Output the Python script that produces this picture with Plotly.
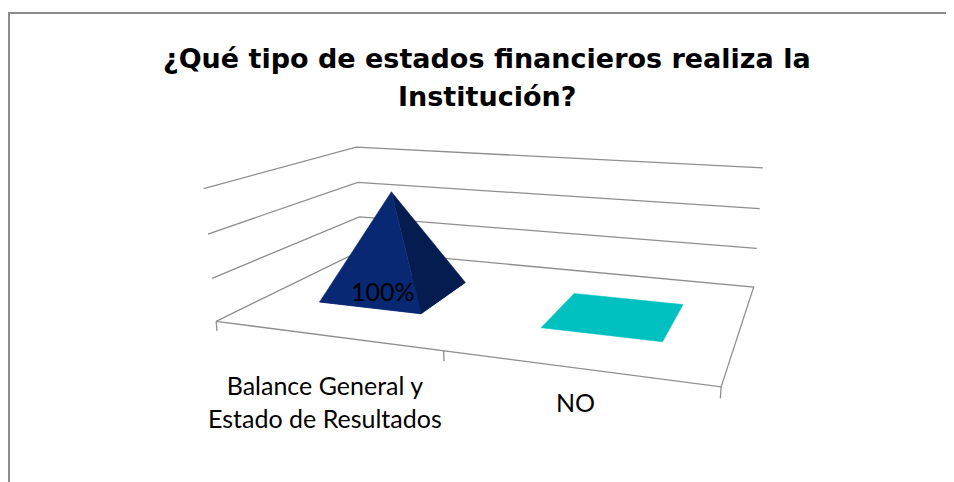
import numpy as np
import plotly.graph_objects as go

# ---------------- data ----------------
categories = ["Balance General y<br>Estado de Resultados", "NO"]
values = [1.0, 0.0]
value_labels = ["100%", ""]
tick_values = [0.0, 0.4, 0.8, 1.2]
title_lines = ["¿Qué tipo de estados financieros realiza la", "Institución?"]

# ---------------- styles ----------------
front_colors = ["#082873", "#00C0C0"]
side_colors = ["#041C50", "#009A9A"]
grid_color = "#8E8E8E"
PAGE_OFFSET = 8          # default page margin of the html body
W, H = 954 - PAGE_OFFSET, 482 - PAGE_OFFSET
HALF_X, HALF_Y = 0.24, 0.2   # pyramid base half size (category units / depth units)

# ---------------- view calibration (3D box -> screen) ----------------
# world (category position, depth, value) -> screen pixel of the box corners
calib = [
    ((0, 0, 0.0), (215, 322)), ((0, 0, 0.4), (212, 278)), ((0, 0, 0.8), (208, 234)), ((0, 0, 1.2), (205, 188)),
    ((0, 1, 0.0), (362, 250)), ((0, 1, 0.4), (360, 217)), ((0, 1, 0.8), (357, 183)), ((0, 1, 1.2), (355, 147)),
    ((2, 1, 0.0), (753, 287)), ((2, 1, 0.4), (757, 248)), ((2, 1, 0.8), (760, 209)), ((2, 1, 1.2), (763, 168)),
    ((2, 0, 0.0), (721, 387)),
]
A, bvec = [], []
for (X, Y, Z), (u, v) in calib:
    A.append([X, Y, Z, 1, 0, 0, 0, 0, -u * X, -u * Y, -u * Z]); bvec.append(u)
    A.append([0, 0, 0, 0, X, Y, Z, 1, -v * X, -v * Y, -v * Z]); bvec.append(v)
p = np.linalg.lstsq(np.array(A, float), np.array(bvec, float), rcond=None)[0]
P = np.append(p, 1.0).reshape(3, 4)


def proj(X, Y, Z):
    r = P @ np.array([X, Y, Z, 1.0])
    return r[0] / r[2], r[1] / r[2]


def path(pts):
    xy = [proj(*q) for q in pts]
    return [a for a, _ in xy], [b for _, b in xy]


fig = go.Figure()
n = len(categories)

# gridlines on left and back walls
for z in tick_values[1:]:
    xs, ys = path([(0, 0, z), (0, 1, z), (n, 1, z)])
    fig.add_trace(go.Scatter(x=xs, y=ys, mode="lines", line=dict(color=grid_color, width=1.3),
                             hoverinfo="skip", showlegend=False))
# floor
xs, ys = path([(0, 0, 0), (n, 0, 0), (n, 1, 0), (0, 1, 0), (0, 0, 0)])
fig.add_trace(go.Scatter(x=xs, y=ys, mode="lines", line=dict(color=grid_color, width=1.3),
                         hoverinfo="skip", showlegend=False))
# category tick marks
for k in range(n + 1):
    xs, ys = path([(k, 0, 0), (k, 0, -0.09)])
    fig.add_trace(go.Scatter(x=xs, y=ys, mode="lines", line=dict(color=grid_color, width=1.3),
                             hoverinfo="skip", showlegend=False))

# pyramids
for i, (val, c1, c2) in enumerate(zip(values, front_colors, side_colors)):
    cx, cy = i + 0.5, 0.5
    fl = (cx - HALF_X, cy - HALF_Y, 0)
    fr = (cx + HALF_X, cy - HALF_Y, 0)
    br = (cx + HALF_X, cy + HALF_Y, 0)
    bl = (cx - HALF_X, cy + HALF_Y, 0)
    apex = (cx, cy, val)
    xs, ys = path([fl, fr, br, bl, fl])
    fig.add_trace(go.Scatter(x=xs, y=ys, mode="lines", fill="toself", fillcolor=c1,
                             line=dict(color=c1, width=0.5), hoverinfo="skip", showlegend=False))
    if val > 0:
        xs, ys = path([fr, br, apex, fr])
        fig.add_trace(go.Scatter(x=xs, y=ys, mode="lines", fill="toself", fillcolor=c2,
                                 line=dict(color=c2, width=0.5), hoverinfo="skip", showlegend=False))
        xs, ys = path([fl, fr, apex, fl])
        fig.add_trace(go.Scatter(x=xs, y=ys, mode="lines", fill="toself", fillcolor=c1,
                                 line=dict(color=c1, width=0.5), hoverinfo="skip", showlegend=False))

annotations = []
# data labels
for i, (val, lab) in enumerate(zip(values, value_labels)):
    if lab:
        x0, y0 = proj(i + 0.5, 0.5 - HALF_Y, 0)
        annotations.append(dict(x=x0, y=y0, xref="x", yref="y", text=lab, showarrow=False,
                                xshift=14, yshift=17,
                                font=dict(family="Lato, Carlito, sans-serif", size=25, color="#000000")))
# category labels (one row under the floor)
label_row = max(proj(n, 0, 0)[1], proj(0, 0, 0)[1]) + 15
for i, cat in enumerate(categories):
    x0, _ = proj(i + 0.5, 0, 0)
    annotations.append(dict(x=x0, y=label_row, xref="x", yref="y", text=cat, showarrow=False,
                            yanchor="middle",
                            font=dict(family="Lato, Carlito, sans-serif", size=25, color="#000000")))
# title
for j, line in enumerate(title_lines):
    annotations.append(dict(x=487, y=58 + 38 * j, xref="x", yref="y", text="<b>%s</b>" % line,
                            showarrow=False, yanchor="middle",
                            font=dict(family="DejaVu Sans", size=27, color="#000000")))

fig.update_layout(
    width=W, height=H, margin=dict(l=0, r=0, t=0, b=0),
    paper_bgcolor="white", plot_bgcolor="white",
    xaxis=dict(range=[PAGE_OFFSET, PAGE_OFFSET + W], visible=False, fixedrange=True),
    yaxis=dict(range=[PAGE_OFFSET + H, PAGE_OFFSET], visible=False, fixedrange=True),
    annotations=annotations,
    shapes=[dict(type="rect", xref="x", yref="y", x0=9, y0=13, x1=W + 40, y1=H + 40,
                 line=dict(color="#8C8C8C", width=2), fillcolor="rgba(0,0,0,0)", layer="below")],
)

fig.write_html("out.html")
